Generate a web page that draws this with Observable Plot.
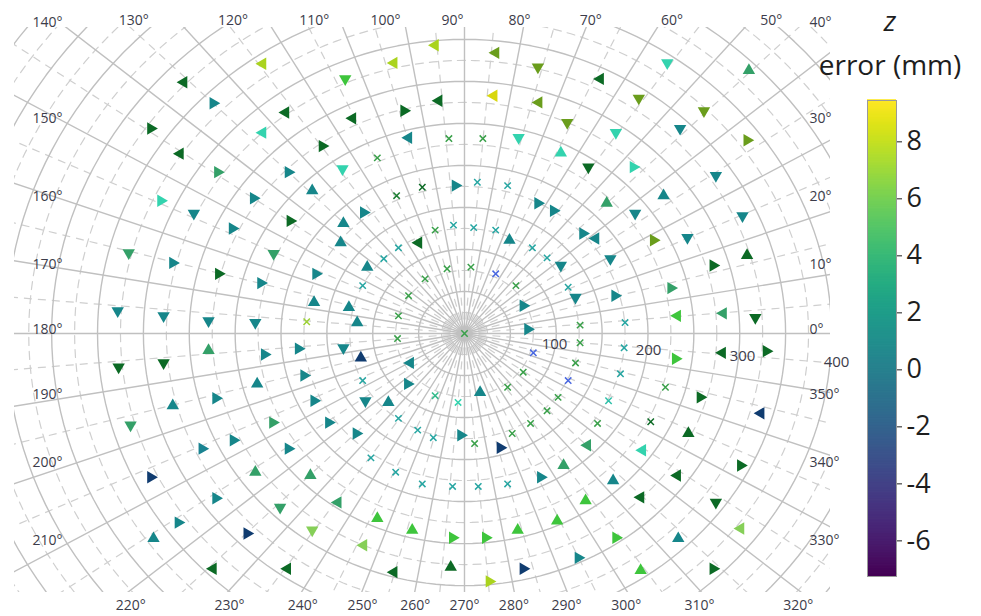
<!DOCTYPE html>
<html><head><meta charset="utf-8">
<script src="https://cdn.jsdelivr.net/npm/d3@7"></script>
<script src="https://cdn.jsdelivr.net/npm/@observablehq/plot@0.6"></script>
<style>
body{margin:0;background:#fff;}
#wrap{position:relative;width:981px;height:616px;overflow:hidden;font-family:"Open Sans",sans-serif;}
#main{position:absolute;left:0;top:0;}
#bar{position:absolute;left:840px;top:0;}
.ttl{position:absolute;left:790px;width:200px;text-align:center;font-size:28px;color:#1e1e1e;line-height:34px;}
</style></head><body>
<div id="wrap"><div id="main"></div><div id="bar"></div>
<div class="ttl" style="top:3px;font-style:italic">z</div>
<div class="ttl" style="top:47px">error (mm)</div></div>
<script>
// ---- data: triangle markers (position in mm, z error in mm, marker direction)
const triX = [-32,34,-77,-130,80,148,32,-28,-66,81,-122,112,190,165,-61,59,-133,105,135,184,-10,221,310,261,235,308,274,217,155,186,303,-220,-306,-274,-195,-220,-155,-342,-310,-269,-192,-166,-331,-295,-230,-253,-190,-366,-318,-268,-208,-222,-162,-164,-378,-328,-279,-228,-117,-110,-132,-135,-50,-106,-126,49,80,97,129,143,159,105,121,164,64,69,-132,-113,-59,-175,-62,17,-164,-108,-83,-148,-118,-4,39,134,194,108,83,162,-138,132,192,-95,-57,-13,23,58,101,165,-110,124,-77,-15,27,64,192,-377,-328,-279,-218,-181,-318,-271,-226,-364,-286,-252,-209,-192,-342,-271,-228,-168,-312,-339,-201,-237,-166,-274,-193,232,282,317,230,281,329,257,323,244,301,232,274,301,233,271,206,243,308,271,225];
const triY = [343,334,322,303,317,303,283,277,265,275,256,251,280,239,233,233,196,215,198,198,176,322,313,265,244,230,188,164,155,143,140,321,299,274,263,239,223,244,214,192,192,170,158,143,161,125,134,96,84,71,95,60,71,37,27,21,15,13,13,144,131,108,108,79,31,111,155,146,119,113,89,81,43,45,33,5,-17,-29,-35,-50,-60,-70,-80,-80,-82,-106,-119,-121,-136,-133,-139,-157,-171,-175,-201,-199,-195,-220,-234,-243,-243,-234,-223,-243,-252,-267,-284,-278,-295,-280,-282,-40,-35,-20,-25,-18,-86,-77,-60,-109,-137,-127,-106,-137,-171,-196,-165,-169,-225,-244,-207,-238,-234,-280,-280,21,24,19,-30,-23,-21,-76,-95,-119,-157,-169,-201,-232,-244,-280,111,114,93,81,54];
const triZ = [7.5,5.5,7.5,6.5,5.5,4.5,9,4.5,4.5,5.5,4.5,5.5,5.5,2.5,0.5,2.5,2.5,2.5,4.5,2.5,0.5,2.5,3.5,5.5,0.5,5.5,0.5,0.5,3.5,0.5,0.5,7.5,4.5,0.5,4.5,2.5,4.5,4.5,4.5,3.5,0.5,0.5,2.5,0.5,0.5,0.5,4.5,3.5,0.5,4.5,3.5,0.5,0.5,0.5,0.5,0.5,0.5,0.5,0.5,0.5,0.5,0.5,4.5,0.5,0.5,0.5,0.5,0.5,0.5,0.5,0.5,0.5,0.5,0.5,0.5,0.5,0.5,-4.5,0.5,0.5,0.5,0.5,0.5,0.5,0.5,0.5,0.5,0.5,-4.5,3.5,2.5,3.5,0.5,0.5,3.5,6.5,4.5,6.5,6.5,6.5,6.5,6.5,6.5,6.5,7,0.5,4.5,4.5,7.5,-4.5,6.5,4.5,4.5,3.5,0.5,0.5,0.5,0.5,0.5,3.5,0.2,0.5,3.5,0.5,-4.5,0.5,3.5,3.5,0.5,0.5,3.5,-4.5,7,4.5,4.5,6.5,3.5,4.5,6.5,4.5,4.5,4.5,-4.5,4.5,4.5,4.5,4.5,7,0.5,4.5,5.5,0.5,4.5,4.5,3.5];
const triDir = ["L","L","L","D","D","L","L","L","R","L","L","D","D","D","L","D","D","U","D","R","R","D","U","D","D","R","D","U","U","D","D","L","L","R","L","L","R","R","L","R","R","U","R","D","R","R","R","D","R","R","D","R","R","U","D","D","D","D","U","R","U","U","L","U","U","U","R","R","R","L","D","D","D","R","R","R","D","U","L","R","R","U","R","D","U","R","R","R","R","L","L","U","R","U","L","U","L","U","U","R","R","U","U","R","L","R","L","U","R","R","U","D","D","U","R","R","U","R","U","D","R","R","R","R","R","R","U","U","R","U","D","R","D","L","L","L","L","D","R","L","R","R","L","U","R","L","D","L","U","R","R","D","U","R","R"];
// ---- data: cross markers (inner measurement rings)
const crsX = [-17,20,-95,14,47,-46,-74,-172,-32,-12,10,34,-72,74,-88,90,-19,7,34,-43,56,-111,113,-61,-72,126,0,-73,126,75,121,64,-111,113,47,-32,-7,102,90,-72,-51,-34,11,52,72,-102,-75,-46,-13,15,47,175,174,170,157,145,219,203];
const crsY = [232,232,209,180,176,174,164,14,123,129,126,123,102,102,89,90,77,79,71,65,57,57,55,45,21,10,0,-6,-11,-23,-35,-46,-56,-56,-64,-74,-82,-76,-92,-101,-115,-124,-131,-119,-107,-148,-165,-179,-182,-182,-179,13,-17,-48,-80,-107,-64,-105];
const crsZ = [3.7,3.7,3.7,1.3,1.3,4.5,4.2,7.3,3.7,1.3,1.3,1.3,1.3,1.3,1.3,1.3,3.7,3.7,-3,3.7,3.7,1.3,1.3,3.7,3.7,3.7,3.7,3.7,3.7,-3,3.7,3.7,1.3,-3,3.7,3,2.5,3.7,3.7,1.3,1.3,1.3,3.7,3.7,3.7,1.3,1.3,1.3,1.3,1.3,1.3,1.3,1.3,1.3,2,3.7,3.7,4.5];
// ---- axes
const angleTicks = d3.range(0, 360, 10);
const radialTicks = [100, 200, 300, 400];
const ringSolid = d3.range(50, 701, 50);
const ringDashed = d3.range(25, 701, 50);
const spokeSolid = d3.range(0, 360, 10);
const spokeDashed = d3.range(5, 360, 10);
const barTicks = [-6, -4, -2, 0, 2, 4, 6, 8];
const zMin = -7.25, zMax = 9.45;

const dirAngle = {U: 0, R: 90, D: 180, L: 270};
const tri = triX.map((x, i) => ({x, y: triY[i], z: triZ[i], rot: dirAngle[triDir[i]]}));
const crs = crsX.map((x, i) => ({x, y: crsY[i], z: crsZ[i]}));

const rad = a => a * Math.PI / 180;
const ringPts = rs => rs.flatMap(r => d3.range(0, 361, 2).map(a => ({r, X: r * Math.cos(rad(a)), Y: r * Math.sin(rad(a))})));

// pixel <-> data helpers for label placement (frame geometry)
const CX = 464, CY = 333, SX = 1.09, SY = 1.19;
const toX = px => (px - CX) * SX, toY = py => (CY - py) * SY;

function anglePos(a) {
  const c = Math.cos(rad(a)), s = Math.sin(rad(a));
  const cands = [];
  if (c > 1e-9) cands.push([366 / c, "R"]);
  if (c < -1e-9) cands.push([-366 / c, "L"]);
  if (s > 1e-9) cands.push([380 / s, "T"]);
  if (s < -1e-9) cands.push([-280 / s, "B"]);
  const [t, side] = cands.reduce((m, v) => v[0] < m[0] ? v : m);
  const ux = t * c, uy = t * s;
  let px, py;
  if (side === "R") { px = 809; py = CY - uy - 4; }
  else if (side === "L") { px = 32; py = CY - uy - 4; }
  else if (side === "T") { px = 452 + ux; py = 20; }
  else { px = CX + ux; py = 605; }
  return {a, side, X: toX(px), Y: toY(py), label: a + "°"};
}
const angleLabels = angleTicks.map(anglePos);
const radialLabels = radialTicks.map(r => ({r, X: toX(460 + 0.94 * r), Y: toY(337 + 0.062 * r)}));

const colorDomain = [-7.25, -4.5, -3, 0.5, 1.3, 2.5, 3.5, 3.7, 4.5, 5.5, 6.5, 7, 7.5, 9];
const colorRange = ["#440154", "#103c70", "#4a68e0", "#16868a", "#27a6a2", "#33d3ae", "#34a068", "#3aa04a", "#0c6a25", "#6a9d1c", "#3ec53c", "#86cf58", "#aad31e", "#d8d70c"];

const main = Plot.plot({
  width: 981, height: 616,
  marginLeft: 14, marginRight: 151, marginTop: 27, marginBottom: 24,
  x: {domain: [toX(14), toX(830)], axis: null},
  y: {domain: [toY(592), toY(27)], axis: null},
  color: {type: "linear", domain: colorDomain, range: colorRange},
  style: {fontFamily: "Open Sans", fontSize: "14px", background: "white", overflow: "visible"},
  marks: [
    Plot.line(ringPts(ringDashed), {x: "X", y: "Y", z: "r", stroke: "#cfcfcf", strokeWidth: 1.2, strokeDasharray: "8,6", clip: true}),
    Plot.link(spokeDashed, {x1: 0, y1: 0, x2: a => 800 * Math.cos(rad(a)), y2: a => 800 * Math.sin(rad(a)), stroke: "#cfcfcf", strokeWidth: 1.2, strokeDasharray: "8,6", clip: true}),
    Plot.line(ringPts(ringSolid), {x: "X", y: "Y", z: "r", stroke: "#c0c0c0", strokeWidth: 1.4, clip: true}),
    Plot.link(spokeSolid, {x1: 0, y1: 0, x2: a => 800 * Math.cos(rad(a)), y2: a => 800 * Math.sin(rad(a)), stroke: "#c0c0c0", strokeWidth: 1.4, clip: true}),
    Plot.dot(crs, {x: "x", y: "y", stroke: "z", symbol: "times", r: 3, strokeWidth: 1.5, clip: true}),
    Plot.dot(tri, {x: "x", y: "y", fill: "z", symbol: "triangle", r: 4.6, rotate: "rot", stroke: "none", clip: true}),
    Plot.text(angleLabels.filter(d => d.side === "R" || d.side === "L"), {x: "X", y: "Y", text: "label", textAnchor: "start", fill: "#3c3c4a"}),
    Plot.text(angleLabels.filter(d => d.side === "T" || d.side === "B"), {x: "X", y: "Y", text: "label", textAnchor: "middle", fill: "#3c3c4a"}),
    Plot.text(radialLabels, {x: "X", y: "Y", text: d => String(d.r), textAnchor: "middle", fontSize: 15, fill: "#3c3c4a"})
  ]
});
document.getElementById("main").appendChild(main);

const ramp = d3.range(300);
const bar = Plot.plot({
  width: 141, height: 616,
  marginLeft: 27, marginRight: 85, marginTop: 100, marginBottom: 40,
  x: {domain: [0, 1], axis: null},
  y: {domain: [zMin, zMax], axis: "right", ticks: barTicks, tickSize: 5, tickPadding: 5, tickFormat: d => String(d), label: null},
  color: {type: "linear", scheme: "viridis", domain: [zMin, zMax]},
  style: {fontFamily: "Open Sans", fontSize: "27px", background: "transparent", color: "#1e1e1e", overflow: "visible"},
  marks: [
    Plot.rect(ramp, {x1: 0, x2: 1, y1: i => zMin + (zMax - zMin) * i / 300, y2: i => zMin + (zMax - zMin) * (i + 1.5) / 300, fill: i => zMin + (zMax - zMin) * (i + 0.5) / 300}),
    Plot.frame({stroke: "#9a9a9a"})
  ]
});
document.getElementById("bar").appendChild(bar);
</script>
</body></html>
